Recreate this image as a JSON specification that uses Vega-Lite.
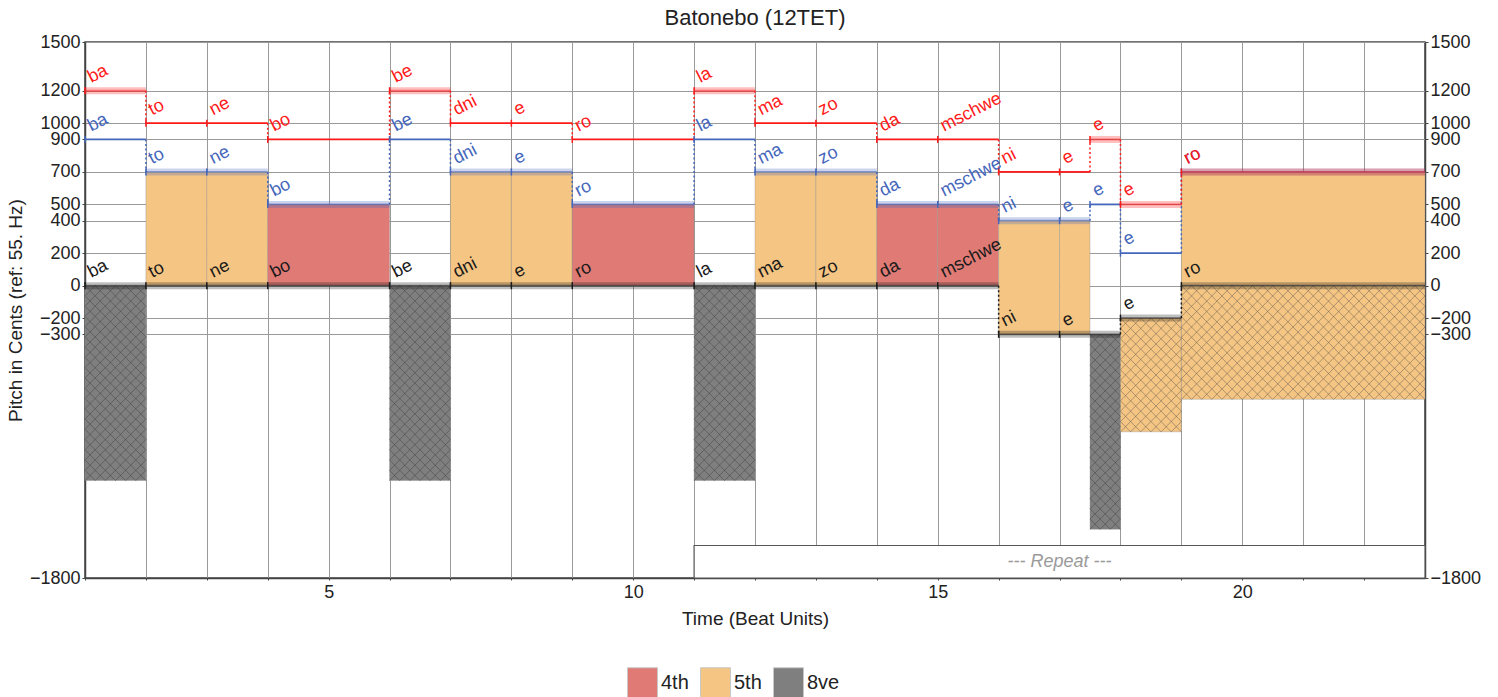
{
  "$schema": "https://vega.github.io/schema/vega-lite/v6.json",
  "width": 1340,
  "height": 536,
  "autosize": {"type": "none"},
  "padding": {"left": 85, "top": 42, "right": 73, "bottom": 119},
  "background": "white",
  "title": {"text": "Batonebo (12TET)", "fontSize": 22, "fontWeight": "normal", "font": "Liberation Sans", "color": "#222", "baseline": "alphabetic", "offset": -14, "anchor": "middle"},
  "config": {"font": "Liberation Sans", "view": {"stroke": "#444", "strokeWidth": 1.5}},
  "datasets": {
    "voices": [
      {"v": "k", "s": 1, "e": 2, "p": 0, "syl": "ba", "g": 1},
      {"v": "k", "s": 2, "e": 3, "p": 0, "syl": "to", "g": 1},
      {"v": "k", "s": 3, "e": 4, "p": 0, "syl": "ne", "g": 1},
      {"v": "k", "s": 4, "e": 6, "p": 0, "syl": "bo", "g": 1},
      {"v": "k", "s": 6, "e": 7, "p": 0, "syl": "be", "g": 1},
      {"v": "k", "s": 7, "e": 8, "p": 0, "syl": "dni", "g": 1},
      {"v": "k", "s": 8, "e": 9, "p": 0, "syl": "e", "g": 1},
      {"v": "k", "s": 9, "e": 11, "p": 0, "syl": "ro", "g": 1},
      {"v": "k", "s": 11, "e": 12, "p": 0, "syl": "la", "g": 1},
      {"v": "k", "s": 12, "e": 13, "p": 0, "syl": "ma", "g": 1},
      {"v": "k", "s": 13, "e": 14, "p": 0, "syl": "zo", "g": 1},
      {"v": "k", "s": 14, "e": 15, "p": 0, "syl": "da", "g": 1},
      {"v": "k", "s": 15, "e": 16, "p": 0, "syl": "mschwe", "g": 1},
      {"v": "k", "s": 16, "e": 17, "p": -300, "syl": "ni", "g": 1},
      {"v": "k", "s": 17, "e": 18, "p": -300, "syl": "e", "g": 1},
      {"v": "k", "s": 18, "e": 19, "p": -200, "syl": "e", "g": 1},
      {"v": "k", "s": 19, "e": 23, "p": 0, "syl": "ro", "g": 1},
      {"v": "b", "s": 1, "e": 2, "p": 900, "syl": "ba", "g": 0},
      {"v": "b", "s": 2, "e": 3, "p": 700, "syl": "to", "g": 1},
      {"v": "b", "s": 3, "e": 4, "p": 700, "syl": "ne", "g": 1},
      {"v": "b", "s": 4, "e": 6, "p": 500, "syl": "bo", "g": 1},
      {"v": "b", "s": 6, "e": 7, "p": 900, "syl": "be", "g": 0},
      {"v": "b", "s": 7, "e": 8, "p": 700, "syl": "dni", "g": 1},
      {"v": "b", "s": 8, "e": 9, "p": 700, "syl": "e", "g": 1},
      {"v": "b", "s": 9, "e": 11, "p": 500, "syl": "ro", "g": 1},
      {"v": "b", "s": 11, "e": 12, "p": 900, "syl": "la", "g": 0},
      {"v": "b", "s": 12, "e": 13, "p": 700, "syl": "ma", "g": 1},
      {"v": "b", "s": 13, "e": 14, "p": 700, "syl": "zo", "g": 1},
      {"v": "b", "s": 14, "e": 15, "p": 500, "syl": "da", "g": 1},
      {"v": "b", "s": 15, "e": 16, "p": 500, "syl": "mschwe", "g": 1},
      {"v": "b", "s": 16, "e": 17, "p": 400, "syl": "ni", "g": 1},
      {"v": "b", "s": 17, "e": 17.5, "p": 400, "syl": "e", "g": 1},
      {"v": "b", "s": 17.5, "e": 18, "p": 500, "syl": "e", "g": 0},
      {"v": "b", "s": 18, "e": 19, "p": 200, "syl": "e", "g": 0},
      {"v": "b", "s": 19, "e": 23, "p": 700, "syl": "ro", "g": 1},
      {"v": "r", "s": 1, "e": 2, "p": 1200, "syl": "ba", "g": 1},
      {"v": "r", "s": 2, "e": 3, "p": 1000, "syl": "to", "g": 0},
      {"v": "r", "s": 3, "e": 4, "p": 1000, "syl": "ne", "g": 0},
      {"v": "r", "s": 4, "e": 6, "p": 900, "syl": "bo", "g": 0},
      {"v": "r", "s": 6, "e": 7, "p": 1200, "syl": "be", "g": 1},
      {"v": "r", "s": 7, "e": 8, "p": 1000, "syl": "dni", "g": 0},
      {"v": "r", "s": 8, "e": 9, "p": 1000, "syl": "e", "g": 0},
      {"v": "r", "s": 9, "e": 11, "p": 900, "syl": "ro", "g": 0},
      {"v": "r", "s": 11, "e": 12, "p": 1200, "syl": "la", "g": 1},
      {"v": "r", "s": 12, "e": 13, "p": 1000, "syl": "ma", "g": 0},
      {"v": "r", "s": 13, "e": 14, "p": 1000, "syl": "zo", "g": 0},
      {"v": "r", "s": 14, "e": 15, "p": 900, "syl": "da", "g": 0},
      {"v": "r", "s": 15, "e": 16, "p": 900, "syl": "mschwe", "g": 0},
      {"v": "r", "s": 16, "e": 17, "p": 700, "syl": "ni", "g": 0},
      {"v": "r", "s": 17, "e": 17.5, "p": 700, "syl": "e", "g": 0},
      {"v": "r", "s": 17.5, "e": 18, "p": 900, "syl": "e", "g": 1},
      {"v": "r", "s": 18, "e": 19, "p": 500, "syl": "e", "g": 1},
      {"v": "r", "s": 19, "e": 23, "p": 700, "syl": "ro", "g": 1}
    ],
    "intervals": [
      {"s": 2, "e": 3, "lo": 0, "hi": 700, "iv": "5th", "h": 0},
      {"s": 3, "e": 4, "lo": 0, "hi": 700, "iv": "5th", "h": 0},
      {"s": 4, "e": 6, "lo": 0, "hi": 500, "iv": "4th", "h": 0},
      {"s": 7, "e": 8, "lo": 0, "hi": 700, "iv": "5th", "h": 0},
      {"s": 8, "e": 9, "lo": 0, "hi": 700, "iv": "5th", "h": 0},
      {"s": 9, "e": 11, "lo": 0, "hi": 500, "iv": "4th", "h": 0},
      {"s": 12, "e": 13, "lo": 0, "hi": 700, "iv": "5th", "h": 0},
      {"s": 13, "e": 14, "lo": 0, "hi": 700, "iv": "5th", "h": 0},
      {"s": 14, "e": 15, "lo": 0, "hi": 500, "iv": "4th", "h": 0},
      {"s": 15, "e": 16, "lo": 0, "hi": 500, "iv": "4th", "h": 0},
      {"s": 16, "e": 17, "lo": -300, "hi": 400, "iv": "5th", "h": 0},
      {"s": 17, "e": 17.5, "lo": -300, "hi": 400, "iv": "5th", "h": 0},
      {"s": 19, "e": 23, "lo": 0, "hi": 700, "iv": "5th", "h": 0},
      {"s": 1, "e": 2, "lo": -1200, "hi": 0, "iv": "8ve", "h": 1},
      {"s": 6, "e": 7, "lo": -1200, "hi": 0, "iv": "8ve", "h": 1},
      {"s": 11, "e": 12, "lo": -1200, "hi": 0, "iv": "8ve", "h": 1},
      {"s": 17.5, "e": 18, "lo": -1500, "hi": -300, "iv": "8ve", "h": 1},
      {"s": 18, "e": 19, "lo": -900, "hi": -200, "iv": "5th", "h": 1},
      {"s": 19, "e": 23, "lo": -700, "hi": 0, "iv": "5th", "h": 1}
    ],
    "repeat": [
      {"s": 11, "e": 23, "lo": -1800, "hi": -1600, "mx": 17, "my": -1700, "t": "--- Repeat ---"}
    ]
  },
  "resolve": {"axis": {"x": "independent", "y": "independent"}},
  "layer": [
    {
      "data": {"name": "repeat"},
      "mark": {"type": "rect", "fill": "white", "stroke": "#555", "strokeWidth": 1.2},
      "encoding": {
        "x": {"field": "s", "type": "quantitative", "scale": {"domain": [1, 23], "nice": false, "zero": false},
          "axis": {"orient": "bottom", "values": [1,2,3,4,5,6,7,8,9,10,11,12,13,14,15,16,17,18,19,20,21,22], "format": "d", "labelExpr": "datum.value % 5 === 0 ? datum.label : ''", "grid": true, "gridColor": "#9a9a9a", "gridWidth": 1, "domainColor": "#444", "domainWidth": 1.5, "ticks": true, "tickSize": 2, "tickColor": "#444", "labelFontSize": 18, "labelColor": "#222", "labelPadding": 3, "labelFlush": false, "labelOverlap": false, "title": "Time (Beat Units)", "titleFontSize": 19, "titleFontWeight": "normal", "titleColor": "#222", "titlePadding": 8}},
        "x2": {"field": "e"},
        "y": {"field": "lo", "type": "quantitative", "scale": {"domain": [-1800, 1500], "nice": false, "zero": false},
          "axis": {"orient": "left", "values": [1500, 1200, 1000, 900, 700, 500, 400, 200, 0, -200, -300, -1800], "format": "d", "grid": true, "gridColor": "#9a9a9a", "gridWidth": 1, "domainColor": "#444", "domainWidth": 1.5, "tickColor": "#444", "tickSize": 3, "labelFontSize": 18, "labelColor": "#222", "labelPadding": 2, "labelFlush": false, "labelOverlap": false, "title": "Pitch in Cents (ref: 55. Hz)", "titleFontSize": 19, "titleFontWeight": "normal", "titleColor": "#222", "titleX": -70, "titleY": 268, "titleAngle": -90, "titleBaseline": "middle", "titleAlign": "center"}},
        "y2": {"field": "hi"}
      }
    },
    {
      "data": {"name": "intervals"},
      "mark": {"type": "rect", "stroke": "#8c8c8c", "strokeWidth": 0.6, "strokeOpacity": 0.6},
      "encoding": {
        "x": {"field": "s", "type": "quantitative", "scale": {"domain": [1, 23], "nice": false, "zero": false}, "axis": null},
        "x2": {"field": "e"},
        "y": {"field": "lo", "type": "quantitative", "scale": {"domain": [-1800, 1500], "nice": false, "zero": false},
          "axis": {"orient": "right", "values": [1500, 1200, 1000, 900, 700, 500, 400, 200, 0, -200, -300, -1800], "format": "d", "grid": false, "domainColor": "#444", "domainWidth": 1.5, "tickColor": "#444", "tickSize": 3, "labelFontSize": 18, "labelColor": "#222", "labelPadding": 2, "labelFlush": false, "labelOverlap": false, "title": null}},
        "y2": {"field": "hi"},
        "fill": {"field": "iv", "type": "nominal", "scale": {"domain": ["4th", "5th", "8ve"], "range": ["#DF7A75", "#F5C583", "#7F7F7F"]},
          "legend": {"orient": "none", "legendX": 542, "legendY": 625, "direction": "horizontal", "title": null, "symbolType": "square", "symbolSize": 900, "symbolStrokeColor": "#c8c8c8", "symbolStrokeWidth": 1, "symbolOpacity": 1, "labelFontSize": 20, "labelOffset": 3, "columnPadding": 9, "labelColor": "#222", "padding": 0}}
      }
    },
    {
      "data": {"name": "intervals"},
      "transform": [{"filter": "datum.h == 1 && datum.iv == '8ve' && datum.e - datum.s == 1"}],
      "mark": {"type": "point", "size": 4, "filled": false, "stroke": "#333", "strokeWidth": 0.8, "opacity": 1, "strokeOpacity": 0.5,
        "shape": "M0,0l10.15,10.26l10.15,-10.26l10.15,10.26l10.15,-10.26l10.15,10.26l10.15,-10.26M0,10.26l10.15,-10.26l10.15,10.26l10.15,-10.26l10.15,10.26l10.15,-10.26l10.15,10.26M0,10.26l10.15,10.26l10.15,-10.26l10.15,10.26l10.15,-10.26l10.15,10.26l10.15,-10.26M0,20.52l10.15,-10.26l10.15,10.26l10.15,-10.26l10.15,10.26l10.15,-10.26l10.15,10.26M0,20.52l10.15,10.26l10.15,-10.26l10.15,10.26l10.15,-10.26l10.15,10.26l10.15,-10.26M0,30.78l10.15,-10.26l10.15,10.26l10.15,-10.26l10.15,10.26l10.15,-10.26l10.15,10.26M0,30.78l10.15,10.26l10.15,-10.26l10.15,10.26l10.15,-10.26l10.15,10.26l10.15,-10.26M0,41.04l10.15,-10.26l10.15,10.26l10.15,-10.26l10.15,10.26l10.15,-10.26l10.15,10.26M0,41.04l10.15,10.26l10.15,-10.26l10.15,10.26l10.15,-10.26l10.15,10.26l10.15,-10.26M0,51.3l10.15,-10.26l10.15,10.26l10.15,-10.26l10.15,10.26l10.15,-10.26l10.15,10.26M0,51.3l10.15,10.26l10.15,-10.26l10.15,10.26l10.15,-10.26l10.15,10.26l10.15,-10.26M0,61.56l10.15,-10.26l10.15,10.26l10.15,-10.26l10.15,10.26l10.15,-10.26l10.15,10.26M0,61.56l10.15,10.26l10.15,-10.26l10.15,10.26l10.15,-10.26l10.15,10.26l10.15,-10.26M0,71.82l10.15,-10.26l10.15,10.26l10.15,-10.26l10.15,10.26l10.15,-10.26l10.15,10.26M0,71.82l10.15,10.26l10.15,-10.26l10.15,10.26l10.15,-10.26l10.15,10.26l10.15,-10.26M0,82.08l10.15,-10.26l10.15,10.26l10.15,-10.26l10.15,10.26l10.15,-10.26l10.15,10.26M0,82.08l10.15,10.26l10.15,-10.26l10.15,10.26l10.15,-10.26l10.15,10.26l10.15,-10.26M0,92.34l10.15,-10.26l10.15,10.26l10.15,-10.26l10.15,10.26l10.15,-10.26l10.15,10.26M0,92.34l10.15,10.26l10.15,-10.26l10.15,10.26l10.15,-10.26l10.15,10.26l10.15,-10.26M0,102.6l10.15,-10.26l10.15,10.26l10.15,-10.26l10.15,10.26l10.15,-10.26l10.15,10.26M0,102.6l10.15,10.26l10.15,-10.26l10.15,10.26l10.15,-10.26l10.15,10.26l10.15,-10.26M0,112.86l10.15,-10.26l10.15,10.26l10.15,-10.26l10.15,10.26l10.15,-10.26l10.15,10.26M0,112.86l10.15,10.26l10.15,-10.26l10.15,10.26l10.15,-10.26l10.15,10.26l10.15,-10.26M0,123.12l10.15,-10.26l10.15,10.26l10.15,-10.26l10.15,10.26l10.15,-10.26l10.15,10.26M0,123.12l10.15,10.26l10.15,-10.26l10.15,10.26l10.15,-10.26l10.15,10.26l10.15,-10.26M0,133.38l10.15,-10.26l10.15,10.26l10.15,-10.26l10.15,10.26l10.15,-10.26l10.15,10.26M0,133.38l10.15,10.26l10.15,-10.26l10.15,10.26l10.15,-10.26l10.15,10.26l10.15,-10.26M0,143.64l10.15,-10.26l10.15,10.26l10.15,-10.26l10.15,10.26l10.15,-10.26l10.15,10.26M0,143.64l10.15,10.26l10.15,-10.26l10.15,10.26l10.15,-10.26l10.15,10.26l10.15,-10.26M0,153.9l10.15,-10.26l10.15,10.26l10.15,-10.26l10.15,10.26l10.15,-10.26l10.15,10.26M0,153.9l10.15,10.26l10.15,-10.26l10.15,10.26l10.15,-10.26l10.15,10.26l10.15,-10.26M0,164.16l10.15,-10.26l10.15,10.26l10.15,-10.26l10.15,10.26l10.15,-10.26l10.15,10.26M0,164.16l10.15,10.26l10.15,-10.26l10.15,10.26l10.15,-10.26l10.15,10.26l10.15,-10.26M0,174.42l10.15,-10.26l10.15,10.26l10.15,-10.26l10.15,10.26l10.15,-10.26l10.15,10.26M0,174.42l10.15,10.26l10.15,-10.26l10.15,10.26l10.15,-10.26l10.15,10.26l10.15,-10.26M0,184.68l10.15,-10.26l10.15,10.26l10.15,-10.26l10.15,10.26l10.15,-10.26l10.15,10.26M0,184.68l10.15,10.26l10.15,-10.26l10.15,10.26l10.15,-10.26l10.15,10.26l10.15,-10.26M0,194.94l10.15,-10.26l10.15,10.26l10.15,-10.26l10.15,10.26l10.15,-10.26l10.15,10.26"},
      "encoding": {
        "x": {"field": "s", "type": "quantitative", "scale": {"domain": [1, 23], "nice": false, "zero": false}, "axis": null},
        "y": {"field": "hi", "type": "quantitative", "scale": {"domain": [-1800, 1500], "nice": false, "zero": false}, "axis": null}
      }
    },
    {
      "data": {"name": "intervals"},
      "transform": [{"filter": "datum.h == 1 && datum.iv == '8ve' && datum.e - datum.s == 0.5"}],
      "mark": {"type": "point", "size": 4, "filled": false, "stroke": "#333", "strokeWidth": 0.8, "opacity": 1, "strokeOpacity": 0.5,
        "shape": "M0,0l10.15,10.26l10.15,-10.26l10.15,10.26M0,10.26l10.15,-10.26l10.15,10.26l10.15,-10.26M0,10.26l10.15,10.26l10.15,-10.26l10.15,10.26M0,20.52l10.15,-10.26l10.15,10.26l10.15,-10.26M0,20.52l10.15,10.26l10.15,-10.26l10.15,10.26M0,30.78l10.15,-10.26l10.15,10.26l10.15,-10.26M0,30.78l10.15,10.26l10.15,-10.26l10.15,10.26M0,41.04l10.15,-10.26l10.15,10.26l10.15,-10.26M0,41.04l10.15,10.26l10.15,-10.26l10.15,10.26M0,51.3l10.15,-10.26l10.15,10.26l10.15,-10.26M0,51.3l10.15,10.26l10.15,-10.26l10.15,10.26M0,61.56l10.15,-10.26l10.15,10.26l10.15,-10.26M0,61.56l10.15,10.26l10.15,-10.26l10.15,10.26M0,71.82l10.15,-10.26l10.15,10.26l10.15,-10.26M0,71.82l10.15,10.26l10.15,-10.26l10.15,10.26M0,82.08l10.15,-10.26l10.15,10.26l10.15,-10.26M0,82.08l10.15,10.26l10.15,-10.26l10.15,10.26M0,92.34l10.15,-10.26l10.15,10.26l10.15,-10.26M0,92.34l10.15,10.26l10.15,-10.26l10.15,10.26M0,102.6l10.15,-10.26l10.15,10.26l10.15,-10.26M0,102.6l10.15,10.26l10.15,-10.26l10.15,10.26M0,112.86l10.15,-10.26l10.15,10.26l10.15,-10.26M0,112.86l10.15,10.26l10.15,-10.26l10.15,10.26M0,123.12l10.15,-10.26l10.15,10.26l10.15,-10.26M0,123.12l10.15,10.26l10.15,-10.26l10.15,10.26M0,133.38l10.15,-10.26l10.15,10.26l10.15,-10.26M0,133.38l10.15,10.26l10.15,-10.26l10.15,10.26M0,143.64l10.15,-10.26l10.15,10.26l10.15,-10.26M0,143.64l10.15,10.26l10.15,-10.26l10.15,10.26M0,153.9l10.15,-10.26l10.15,10.26l10.15,-10.26M0,153.9l10.15,10.26l10.15,-10.26l10.15,10.26M0,164.16l10.15,-10.26l10.15,10.26l10.15,-10.26M0,164.16l10.15,10.26l10.15,-10.26l10.15,10.26M0,174.42l10.15,-10.26l10.15,10.26l10.15,-10.26M0,174.42l10.15,10.26l10.15,-10.26l10.15,10.26M0,184.68l10.15,-10.26l10.15,10.26l10.15,-10.26M0,184.68l10.15,10.26l10.15,-10.26l10.15,10.26M0,194.94l10.15,-10.26l10.15,10.26l10.15,-10.26"},
      "encoding": {
        "x": {"field": "s", "type": "quantitative", "scale": {"domain": [1, 23], "nice": false, "zero": false}, "axis": null},
        "y": {"field": "hi", "type": "quantitative", "scale": {"domain": [-1800, 1500], "nice": false, "zero": false}, "axis": null}
      }
    },
    {
      "data": {"name": "intervals"},
      "transform": [{"filter": "datum.h == 1 && datum.iv == '5th' && datum.e - datum.s == 1"}],
      "mark": {"type": "point", "size": 4, "filled": false, "stroke": "#444", "strokeWidth": 0.8, "opacity": 1, "strokeOpacity": 0.5,
        "shape": "M0,0l10.15,10.34l10.15,-10.34l10.15,10.34l10.15,-10.34l10.15,10.34l10.15,-10.34M0,10.34l10.15,-10.34l10.15,10.34l10.15,-10.34l10.15,10.34l10.15,-10.34l10.15,10.34M0,10.34l10.15,10.34l10.15,-10.34l10.15,10.34l10.15,-10.34l10.15,10.34l10.15,-10.34M0,20.68l10.15,-10.34l10.15,10.34l10.15,-10.34l10.15,10.34l10.15,-10.34l10.15,10.34M0,20.68l10.15,10.34l10.15,-10.34l10.15,10.34l10.15,-10.34l10.15,10.34l10.15,-10.34M0,31.02l10.15,-10.34l10.15,10.34l10.15,-10.34l10.15,10.34l10.15,-10.34l10.15,10.34M0,31.02l10.15,10.34l10.15,-10.34l10.15,10.34l10.15,-10.34l10.15,10.34l10.15,-10.34M0,41.36l10.15,-10.34l10.15,10.34l10.15,-10.34l10.15,10.34l10.15,-10.34l10.15,10.34M0,41.36l10.15,10.34l10.15,-10.34l10.15,10.34l10.15,-10.34l10.15,10.34l10.15,-10.34M0,51.7l10.15,-10.34l10.15,10.34l10.15,-10.34l10.15,10.34l10.15,-10.34l10.15,10.34M0,51.7l10.15,10.34l10.15,-10.34l10.15,10.34l10.15,-10.34l10.15,10.34l10.15,-10.34M0,62.04l10.15,-10.34l10.15,10.34l10.15,-10.34l10.15,10.34l10.15,-10.34l10.15,10.34M0,62.04l10.15,10.34l10.15,-10.34l10.15,10.34l10.15,-10.34l10.15,10.34l10.15,-10.34M0,72.38l10.15,-10.34l10.15,10.34l10.15,-10.34l10.15,10.34l10.15,-10.34l10.15,10.34M0,72.38l10.15,10.34l10.15,-10.34l10.15,10.34l10.15,-10.34l10.15,10.34l10.15,-10.34M0,82.72l10.15,-10.34l10.15,10.34l10.15,-10.34l10.15,10.34l10.15,-10.34l10.15,10.34M0,82.72l10.15,10.34l10.15,-10.34l10.15,10.34l10.15,-10.34l10.15,10.34l10.15,-10.34M0,93.06l10.15,-10.34l10.15,10.34l10.15,-10.34l10.15,10.34l10.15,-10.34l10.15,10.34M0,93.06l10.15,10.34l10.15,-10.34l10.15,10.34l10.15,-10.34l10.15,10.34l10.15,-10.34M0,103.4l10.15,-10.34l10.15,10.34l10.15,-10.34l10.15,10.34l10.15,-10.34l10.15,10.34M0,103.4l10.15,10.34l10.15,-10.34l10.15,10.34l10.15,-10.34l10.15,10.34l10.15,-10.34M0,113.74l10.15,-10.34l10.15,10.34l10.15,-10.34l10.15,10.34l10.15,-10.34l10.15,10.34"},
      "encoding": {
        "x": {"field": "s", "type": "quantitative", "scale": {"domain": [1, 23], "nice": false, "zero": false}, "axis": null},
        "y": {"field": "hi", "type": "quantitative", "scale": {"domain": [-1800, 1500], "nice": false, "zero": false}, "axis": null}
      }
    },
    {
      "data": {"name": "intervals"},
      "transform": [{"filter": "datum.h == 1 && datum.iv == '5th' && datum.e - datum.s == 4"}],
      "mark": {"type": "point", "size": 4, "filled": false, "stroke": "#444", "strokeWidth": 0.8, "opacity": 1, "strokeOpacity": 0.5,
        "shape": "M0,0l10.15,10.34l10.15,-10.34l10.15,10.34l10.15,-10.34l10.15,10.34l10.15,-10.34l10.15,10.34l10.15,-10.34l10.15,10.34l10.15,-10.34l10.15,10.34l10.15,-10.34l10.15,10.34l10.15,-10.34l10.15,10.34l10.15,-10.34l10.15,10.34l10.15,-10.34l10.15,10.34l10.15,-10.34l10.15,10.34l10.15,-10.34l10.15,10.34l10.15,-10.34M0,10.34l10.15,-10.34l10.15,10.34l10.15,-10.34l10.15,10.34l10.15,-10.34l10.15,10.34l10.15,-10.34l10.15,10.34l10.15,-10.34l10.15,10.34l10.15,-10.34l10.15,10.34l10.15,-10.34l10.15,10.34l10.15,-10.34l10.15,10.34l10.15,-10.34l10.15,10.34l10.15,-10.34l10.15,10.34l10.15,-10.34l10.15,10.34l10.15,-10.34l10.15,10.34M0,10.34l10.15,10.34l10.15,-10.34l10.15,10.34l10.15,-10.34l10.15,10.34l10.15,-10.34l10.15,10.34l10.15,-10.34l10.15,10.34l10.15,-10.34l10.15,10.34l10.15,-10.34l10.15,10.34l10.15,-10.34l10.15,10.34l10.15,-10.34l10.15,10.34l10.15,-10.34l10.15,10.34l10.15,-10.34l10.15,10.34l10.15,-10.34l10.15,10.34l10.15,-10.34M0,20.68l10.15,-10.34l10.15,10.34l10.15,-10.34l10.15,10.34l10.15,-10.34l10.15,10.34l10.15,-10.34l10.15,10.34l10.15,-10.34l10.15,10.34l10.15,-10.34l10.15,10.34l10.15,-10.34l10.15,10.34l10.15,-10.34l10.15,10.34l10.15,-10.34l10.15,10.34l10.15,-10.34l10.15,10.34l10.15,-10.34l10.15,10.34l10.15,-10.34l10.15,10.34M0,20.68l10.15,10.34l10.15,-10.34l10.15,10.34l10.15,-10.34l10.15,10.34l10.15,-10.34l10.15,10.34l10.15,-10.34l10.15,10.34l10.15,-10.34l10.15,10.34l10.15,-10.34l10.15,10.34l10.15,-10.34l10.15,10.34l10.15,-10.34l10.15,10.34l10.15,-10.34l10.15,10.34l10.15,-10.34l10.15,10.34l10.15,-10.34l10.15,10.34l10.15,-10.34M0,31.02l10.15,-10.34l10.15,10.34l10.15,-10.34l10.15,10.34l10.15,-10.34l10.15,10.34l10.15,-10.34l10.15,10.34l10.15,-10.34l10.15,10.34l10.15,-10.34l10.15,10.34l10.15,-10.34l10.15,10.34l10.15,-10.34l10.15,10.34l10.15,-10.34l10.15,10.34l10.15,-10.34l10.15,10.34l10.15,-10.34l10.15,10.34l10.15,-10.34l10.15,10.34M0,31.02l10.15,10.34l10.15,-10.34l10.15,10.34l10.15,-10.34l10.15,10.34l10.15,-10.34l10.15,10.34l10.15,-10.34l10.15,10.34l10.15,-10.34l10.15,10.34l10.15,-10.34l10.15,10.34l10.15,-10.34l10.15,10.34l10.15,-10.34l10.15,10.34l10.15,-10.34l10.15,10.34l10.15,-10.34l10.15,10.34l10.15,-10.34l10.15,10.34l10.15,-10.34M0,41.36l10.15,-10.34l10.15,10.34l10.15,-10.34l10.15,10.34l10.15,-10.34l10.15,10.34l10.15,-10.34l10.15,10.34l10.15,-10.34l10.15,10.34l10.15,-10.34l10.15,10.34l10.15,-10.34l10.15,10.34l10.15,-10.34l10.15,10.34l10.15,-10.34l10.15,10.34l10.15,-10.34l10.15,10.34l10.15,-10.34l10.15,10.34l10.15,-10.34l10.15,10.34M0,41.36l10.15,10.34l10.15,-10.34l10.15,10.34l10.15,-10.34l10.15,10.34l10.15,-10.34l10.15,10.34l10.15,-10.34l10.15,10.34l10.15,-10.34l10.15,10.34l10.15,-10.34l10.15,10.34l10.15,-10.34l10.15,10.34l10.15,-10.34l10.15,10.34l10.15,-10.34l10.15,10.34l10.15,-10.34l10.15,10.34l10.15,-10.34l10.15,10.34l10.15,-10.34M0,51.7l10.15,-10.34l10.15,10.34l10.15,-10.34l10.15,10.34l10.15,-10.34l10.15,10.34l10.15,-10.34l10.15,10.34l10.15,-10.34l10.15,10.34l10.15,-10.34l10.15,10.34l10.15,-10.34l10.15,10.34l10.15,-10.34l10.15,10.34l10.15,-10.34l10.15,10.34l10.15,-10.34l10.15,10.34l10.15,-10.34l10.15,10.34l10.15,-10.34l10.15,10.34M0,51.7l10.15,10.34l10.15,-10.34l10.15,10.34l10.15,-10.34l10.15,10.34l10.15,-10.34l10.15,10.34l10.15,-10.34l10.15,10.34l10.15,-10.34l10.15,10.34l10.15,-10.34l10.15,10.34l10.15,-10.34l10.15,10.34l10.15,-10.34l10.15,10.34l10.15,-10.34l10.15,10.34l10.15,-10.34l10.15,10.34l10.15,-10.34l10.15,10.34l10.15,-10.34M0,62.04l10.15,-10.34l10.15,10.34l10.15,-10.34l10.15,10.34l10.15,-10.34l10.15,10.34l10.15,-10.34l10.15,10.34l10.15,-10.34l10.15,10.34l10.15,-10.34l10.15,10.34l10.15,-10.34l10.15,10.34l10.15,-10.34l10.15,10.34l10.15,-10.34l10.15,10.34l10.15,-10.34l10.15,10.34l10.15,-10.34l10.15,10.34l10.15,-10.34l10.15,10.34M0,62.04l10.15,10.34l10.15,-10.34l10.15,10.34l10.15,-10.34l10.15,10.34l10.15,-10.34l10.15,10.34l10.15,-10.34l10.15,10.34l10.15,-10.34l10.15,10.34l10.15,-10.34l10.15,10.34l10.15,-10.34l10.15,10.34l10.15,-10.34l10.15,10.34l10.15,-10.34l10.15,10.34l10.15,-10.34l10.15,10.34l10.15,-10.34l10.15,10.34l10.15,-10.34M0,72.38l10.15,-10.34l10.15,10.34l10.15,-10.34l10.15,10.34l10.15,-10.34l10.15,10.34l10.15,-10.34l10.15,10.34l10.15,-10.34l10.15,10.34l10.15,-10.34l10.15,10.34l10.15,-10.34l10.15,10.34l10.15,-10.34l10.15,10.34l10.15,-10.34l10.15,10.34l10.15,-10.34l10.15,10.34l10.15,-10.34l10.15,10.34l10.15,-10.34l10.15,10.34M0,72.38l10.15,10.34l10.15,-10.34l10.15,10.34l10.15,-10.34l10.15,10.34l10.15,-10.34l10.15,10.34l10.15,-10.34l10.15,10.34l10.15,-10.34l10.15,10.34l10.15,-10.34l10.15,10.34l10.15,-10.34l10.15,10.34l10.15,-10.34l10.15,10.34l10.15,-10.34l10.15,10.34l10.15,-10.34l10.15,10.34l10.15,-10.34l10.15,10.34l10.15,-10.34M0,82.72l10.15,-10.34l10.15,10.34l10.15,-10.34l10.15,10.34l10.15,-10.34l10.15,10.34l10.15,-10.34l10.15,10.34l10.15,-10.34l10.15,10.34l10.15,-10.34l10.15,10.34l10.15,-10.34l10.15,10.34l10.15,-10.34l10.15,10.34l10.15,-10.34l10.15,10.34l10.15,-10.34l10.15,10.34l10.15,-10.34l10.15,10.34l10.15,-10.34l10.15,10.34M0,82.72l10.15,10.34l10.15,-10.34l10.15,10.34l10.15,-10.34l10.15,10.34l10.15,-10.34l10.15,10.34l10.15,-10.34l10.15,10.34l10.15,-10.34l10.15,10.34l10.15,-10.34l10.15,10.34l10.15,-10.34l10.15,10.34l10.15,-10.34l10.15,10.34l10.15,-10.34l10.15,10.34l10.15,-10.34l10.15,10.34l10.15,-10.34l10.15,10.34l10.15,-10.34M0,93.06l10.15,-10.34l10.15,10.34l10.15,-10.34l10.15,10.34l10.15,-10.34l10.15,10.34l10.15,-10.34l10.15,10.34l10.15,-10.34l10.15,10.34l10.15,-10.34l10.15,10.34l10.15,-10.34l10.15,10.34l10.15,-10.34l10.15,10.34l10.15,-10.34l10.15,10.34l10.15,-10.34l10.15,10.34l10.15,-10.34l10.15,10.34l10.15,-10.34l10.15,10.34M0,93.06l10.15,10.34l10.15,-10.34l10.15,10.34l10.15,-10.34l10.15,10.34l10.15,-10.34l10.15,10.34l10.15,-10.34l10.15,10.34l10.15,-10.34l10.15,10.34l10.15,-10.34l10.15,10.34l10.15,-10.34l10.15,10.34l10.15,-10.34l10.15,10.34l10.15,-10.34l10.15,10.34l10.15,-10.34l10.15,10.34l10.15,-10.34l10.15,10.34l10.15,-10.34M0,103.4l10.15,-10.34l10.15,10.34l10.15,-10.34l10.15,10.34l10.15,-10.34l10.15,10.34l10.15,-10.34l10.15,10.34l10.15,-10.34l10.15,10.34l10.15,-10.34l10.15,10.34l10.15,-10.34l10.15,10.34l10.15,-10.34l10.15,10.34l10.15,-10.34l10.15,10.34l10.15,-10.34l10.15,10.34l10.15,-10.34l10.15,10.34l10.15,-10.34l10.15,10.34M0,103.4l10.15,10.34l10.15,-10.34l10.15,10.34l10.15,-10.34l10.15,10.34l10.15,-10.34l10.15,10.34l10.15,-10.34l10.15,10.34l10.15,-10.34l10.15,10.34l10.15,-10.34l10.15,10.34l10.15,-10.34l10.15,10.34l10.15,-10.34l10.15,10.34l10.15,-10.34l10.15,10.34l10.15,-10.34l10.15,10.34l10.15,-10.34l10.15,10.34l10.15,-10.34M0,113.74l10.15,-10.34l10.15,10.34l10.15,-10.34l10.15,10.34l10.15,-10.34l10.15,10.34l10.15,-10.34l10.15,10.34l10.15,-10.34l10.15,10.34l10.15,-10.34l10.15,10.34l10.15,-10.34l10.15,10.34l10.15,-10.34l10.15,10.34l10.15,-10.34l10.15,10.34l10.15,-10.34l10.15,10.34l10.15,-10.34l10.15,10.34l10.15,-10.34l10.15,10.34"},
      "encoding": {
        "x": {"field": "s", "type": "quantitative", "scale": {"domain": [1, 23], "nice": false, "zero": false}, "axis": null},
        "y": {"field": "hi", "type": "quantitative", "scale": {"domain": [-1800, 1500], "nice": false, "zero": false}, "axis": null}
      }
    },
    {
      "data": {"name": "voices"},
      "transform": [{"filter": "datum.g == 1"}],
      "mark": {"type": "rule", "strokeWidth": 7, "opacity": 0.28},
      "encoding": {
        "x": {"field": "s", "type": "quantitative", "scale": {"domain": [1, 23], "nice": false, "zero": false}, "axis": null},
        "x2": {"field": "e"},
        "y": {"field": "p", "type": "quantitative", "scale": {"domain": [-1800, 1500], "nice": false, "zero": false}, "axis": null},
        "color": {"field": "v", "type": "nominal", "scale": {"domain": ["r", "b", "k"], "range": ["#ff1a1a", "#4466bb", "#1a1a1a"]}, "legend": null}
      }
    },
    {
      "data": {"name": "voices"},
      "mark": {"type": "rule", "strokeWidth": 1.8},
      "encoding": {
        "x": {"field": "s", "type": "quantitative", "scale": {"domain": [1, 23], "nice": false, "zero": false}, "axis": null},
        "x2": {"field": "e"},
        "y": {"field": "p", "type": "quantitative", "scale": {"domain": [-1800, 1500], "nice": false, "zero": false}, "axis": null},
        "color": {"field": "v", "type": "nominal", "scale": {"domain": ["r", "b", "k"], "range": ["#ff1a1a", "#4466bb", "#1a1a1a"]}, "legend": null},
        "opacity": {"condition": {"test": "datum.g == 1", "value": 0.5}, "value": 1}
      }
    },
    {
      "data": {"name": "voices"},
      "transform": [
        {"window": [{"op": "lead", "field": "p", "as": "np"}], "groupby": ["v"], "sort": [{"field": "s", "order": "ascending"}]},
        {"filter": "datum.np != null && datum.np != datum.p"}
      ],
      "mark": {"type": "rule", "strokeWidth": 1.5, "strokeDash": [2, 2.5]},
      "encoding": {
        "x": {"field": "e", "type": "quantitative", "scale": {"domain": [1, 23], "nice": false, "zero": false}, "axis": null},
        "y": {"field": "p", "type": "quantitative", "scale": {"domain": [-1800, 1500], "nice": false, "zero": false}, "axis": null},
        "y2": {"field": "np"},
        "color": {"field": "v", "type": "nominal", "scale": {"domain": ["r", "b", "k"], "range": ["#ff1a1a", "#4466bb", "#1a1a1a"]}, "legend": null}
      }
    },
    {
      "data": {"name": "voices"},
      "mark": {"type": "tick", "orient": "vertical", "size": 7, "thickness": 1.5, "opacity": 1},
      "encoding": {
        "x": {"field": "s", "type": "quantitative", "scale": {"domain": [1, 23], "nice": false, "zero": false}, "axis": null},
        "y": {"field": "p", "type": "quantitative", "scale": {"domain": [-1800, 1500], "nice": false, "zero": false}, "axis": null},
        "color": {"field": "v", "type": "nominal", "scale": {"domain": ["r", "b", "k"], "range": ["#ff1a1a", "#4466bb", "#1a1a1a"]}, "legend": null}
      }
    },
    {
      "data": {"name": "voices"},
      "mark": {"type": "text", "angle": -27, "align": "left", "baseline": "alphabetic", "dx": 9, "dy": -4, "fontSize": 18, "font": "Liberation Sans"},
      "encoding": {
        "x": {"field": "s", "type": "quantitative", "scale": {"domain": [1, 23], "nice": false, "zero": false}, "axis": null},
        "y": {"field": "p", "type": "quantitative", "scale": {"domain": [-1800, 1500], "nice": false, "zero": false}, "axis": null},
        "text": {"field": "syl"},
        "color": {"field": "v", "type": "nominal", "scale": {"domain": ["r", "b", "k"], "range": ["#ff1a1a", "#4466bb", "#1a1a1a"]}, "legend": null}
      }
    },
    {
      "data": {"name": "repeat"},
      "mark": {"type": "text", "align": "center", "baseline": "middle", "fontSize": 18, "fontStyle": "italic", "color": "#9a9a9a", "font": "Liberation Sans"},
      "encoding": {
        "x": {"field": "mx", "type": "quantitative", "scale": {"domain": [1, 23], "nice": false, "zero": false}, "axis": null},
        "y": {"field": "my", "type": "quantitative", "scale": {"domain": [-1800, 1500], "nice": false, "zero": false}, "axis": null},
        "text": {"field": "t"}
      }
    }
  ]
}
